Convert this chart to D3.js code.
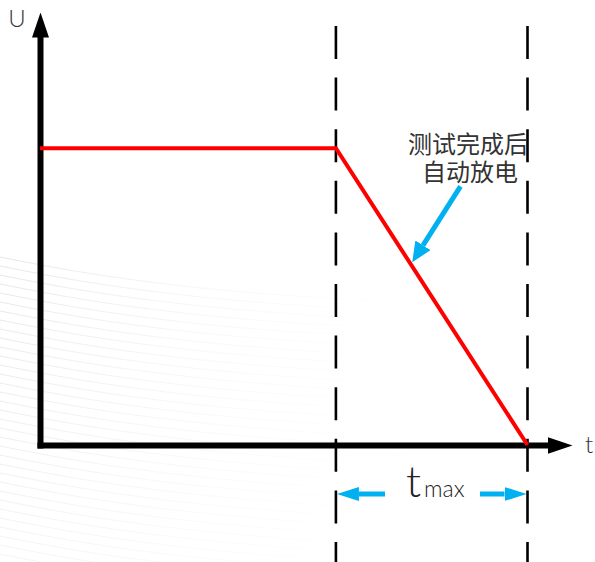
<!DOCTYPE html>
<html>
<head>
<meta charset="utf-8">
<script src="https://cdn.jsdelivr.net/npm/d3@7"></script>
<style>
  html, body { margin: 0; padding: 0; background: #fff; }
  svg { display: block; }
</style>
</head>
<body>
<svg id="canvas"></svg>
<script>
// time points (relative units) and voltage levels
let timePoints = [0, 6.07, 10];
let voltageValues = [1, 1, 0];
let markerTimes = [6.07, 10];     // dashed lines: test finished, discharge finished
let axisLabels = ['U', 't'];
let noteLines = ['测试完成后', '自动放电'];
let noteTime = 7.62;               // where the blue arrow hits the red line
let spanLabel = ['t', 'max'];

let width = 595;
let height = 562;

let svg = d3.select('#canvas')
    .attr('width', width)
    .attr('height', height);

let xScale = d3.scaleLinear().domain([0, 10.4]).range([40, 547]);
let yScale = d3.scaleLinear().domain([0, 1.375]).range([445, 37]);

let blue = '#00b0f0';
let defs = svg.append('defs');

/*faint wavy texture in the background, fading out to the right*/
let fade = defs.append('linearGradient')
    .attr('id', 'fade')
    .attr('gradientUnits', 'userSpaceOnUse')
    .attr('x1', 0).attr('y1', 0).attr('x2', 420).attr('y2', 0);
fade.append('stop').attr('offset', 0).attr('stop-color', '#dcdcdc').attr('stop-opacity', 0.8);
fade.append('stop').attr('offset', 0.5).attr('stop-color', '#e6e6e6').attr('stop-opacity', 0.35);
fade.append('stop').attr('offset', 1).attr('stop-color', '#eeeeee').attr('stop-opacity', 0);

let bg = svg.append('g').attr('fill', 'none').attr('stroke', 'url(#fade)').attr('stroke-width', 1);
for (let i = 0; i < 36; i++) {
    let y0 = 255 + i * 9;
    bg.append('path')
        .attr('opacity', 0.9 - i * 0.015)
        .attr('d', d3.line().curve(d3.curveBasis)([
            [-10, y0], [80, y0 + 18], [200, y0 + 34], [330, y0 + 44], [440, y0 + 48]
        ]));
}

/*arrow heads*/
let addHead = (id, len, half, color) => {
    defs.append('marker')
        .attr('id', id)
        .attr('viewBox', `0 0 ${len} ${half * 2}`)
        .attr('refX', 0)
        .attr('refY', half)
        .attr('markerWidth', len)
        .attr('markerHeight', half * 2)
        .attr('markerUnits', 'userSpaceOnUse')
        .attr('orient', 'auto')
        .append('path')
        .attr('d', `M0,0L${len},${half}L0,${half * 2}Z`)
        .attr('fill', color);
};
addHead('axisHead', 25, 8.5, '#000');
addHead('blueHead', 20, 9, blue);
addHead('spanHead', 22, 7, blue);

/*dashed markers*/
svg.selectAll('line.marker')
    .data(markerTimes)
    .enter()
    .append('line')
    .attr('class', 'marker')
    .attr('x1', d => xScale(d))
    .attr('x2', d => xScale(d))
    .attr('y1', 26)
    .attr('y2', height + 10)
    .attr('stroke', '#000')
    .attr('stroke-width', 2.6)
    .attr('stroke-dasharray', '33,18.6');

/*axes without ticks*/
let xAxis = d3.axisBottom(xScale).tickValues([]).tickSizeOuter(0);
let yAxis = d3.axisLeft(yScale).tickValues([]).tickSizeOuter(0);

let gx = svg.append('g')
    .attr('transform', 'translate(0,' + yScale(0) + ')')
    .call(xAxis);
let gy = svg.append('g')
    .attr('transform', 'translate(' + xScale(0) + ',0)')
    .call(yAxis);
[gx, gy].forEach(g => {
    g.select('.domain')
        .attr('stroke', '#000')
        .attr('stroke-width', 6)
        .attr('stroke-linecap', 'square')
        .attr('marker-end', 'url(#axisHead)');
});

/*voltage curve*/
let curve = d3.zip(timePoints, voltageValues);
svg.append('path')
    .datum(curve)
    .attr('fill', 'none')
    .attr('stroke', '#f00')
    .attr('stroke-width', 4)
    .attr('stroke-linejoin', 'miter')
    .attr('d', d3.line().x(d => xScale(d[0])).y(d => yScale(d[1])));

/*axis labels*/
svg.append('text')
    .attr('x', 17).attr('y', 27)
    .attr('text-anchor', 'middle')
    .attr('font-family', 'Lato, "Open Sans", sans-serif')
    .attr('font-weight', 300)
    .attr('font-size', 24)
    .attr('fill', '#333')
    .text(axisLabels[0]);
svg.append('text')
    .attr('x', 589).attr('y', 453)
    .attr('text-anchor', 'middle')
    .attr('font-family', 'Lato, "Open Sans", sans-serif')
    .attr('font-weight', 300)
    .attr('font-size', 24)
    .attr('fill', '#333')
    .text(axisLabels[1]);

/*annotation*/
let uAt = t => d3.scaleLinear().domain([timePoints[1], timePoints[2]]).range([voltageValues[1], voltageValues[2]])(t);
let tipX = xScale(noteTime);
let tipY = yScale(uAt(noteTime)) - 2;
svg.append('line')
    .attr('x1', tipX + 49).attr('y1', tipY - 77)
    .attr('x2', tipX + 11.5).attr('y2', tipY - 18)
    .attr('stroke', blue)
    .attr('stroke-width', 5)
    .attr('marker-end', 'url(#blueHead)');

svg.append('text')
    .attr('font-family', '"Noto Sans CJK SC", sans-serif')
    .attr('font-size', 24)
    .attr('fill', '#333')
    .attr('text-anchor', 'middle')
    .selectAll('tspan')
    .data(noteLines)
    .enter()
    .append('tspan')
    .attr('x', (d, i) => i === 0 ? 468 : 470)
    .attr('y', (d, i) => 153 + i * 28)
    .text(d => d);

/*t max span*/
let spanY = 494;
let left = xScale(markerTimes[0]);
let right = xScale(markerTimes[1]);
svg.append('line')
    .attr('x1', 385).attr('y1', spanY)
    .attr('x2', left + 23).attr('y2', spanY)
    .attr('stroke', blue).attr('stroke-width', 5)
    .attr('marker-end', 'url(#spanHead)');
svg.append('line')
    .attr('x1', 480).attr('y1', spanY)
    .attr('x2', right - 23).attr('y2', spanY)
    .attr('stroke', blue).attr('stroke-width', 5)
    .attr('marker-end', 'url(#spanHead)');

let spanText = svg.append('text')
    .attr('x', 406).attr('y', 497)
    .attr('font-family', 'Lato, "Open Sans", sans-serif')
    .attr('font-weight', 300)
    .attr('fill', '#222');
spanText.append('tspan').attr('font-size', 44).text(spanLabel[0]);
spanText.append('tspan').attr('font-size', 23).attr('dx', 3).text(spanLabel[1]);
</script>
</body>
</html>
